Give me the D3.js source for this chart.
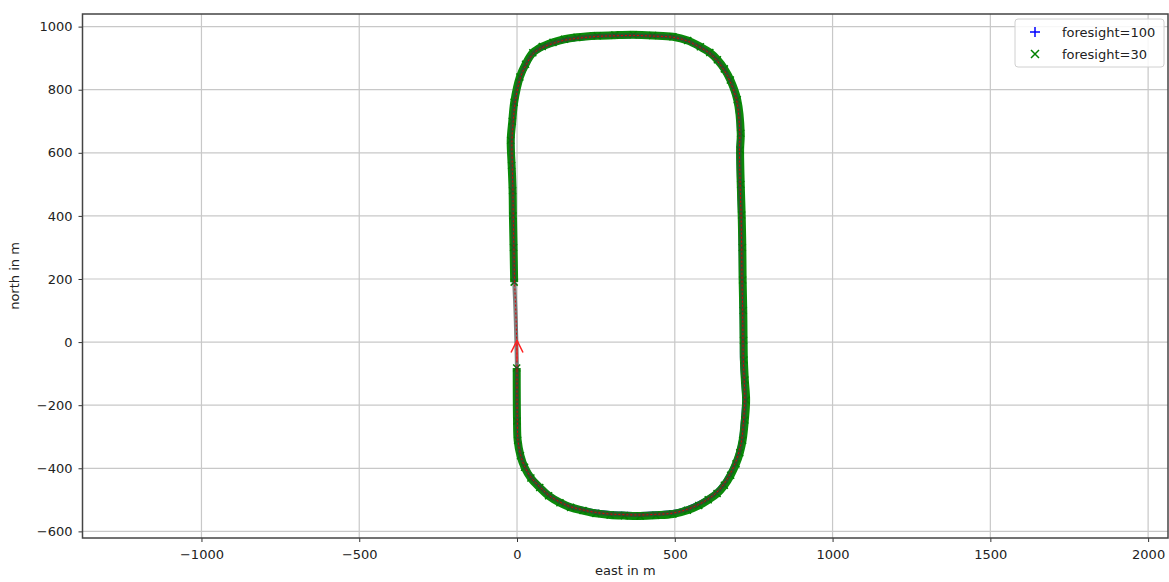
<!DOCTYPE html>
<html>
<head>
<meta charset="utf-8">
<script src="https://cdn.jsdelivr.net/npm/d3@7"></script>
<style>
  body { margin: 0; background: #fff; }
  text { font-family: "DejaVu Sans", sans-serif; fill: #222; }
</style>
</head>
<body>
<div id="chart"></div>
<script>
// tick values
let xTicks = [-1000, -500, 0, 500, 1000, 1500, 2000];
let yTicks = [-600, -400, -200, 0, 200, 400, 600, 800, 1000];

// driven path (grey), clockwise from the start
let pathEast  = [0, -2, -5, -9, -11, -13, -14, -16, -18, -14, -8, 10, 28, 51, 80, 114, 150, 190, 254, 310, 368, 430, 494, 540, 580, 610, 634, 656, 675, 697, 707, 705, 707, 710, 712, 713, 715, 716, 716, 720, 723, 719, 713, 704, 692, 675, 655, 632, 605, 575, 540, 494, 440, 390, 340, 295, 250, 209, 170, 136, 100, 73, 45, 25, 12, 3, 1, 0, 0];
let pathNorth = [-90, 0, 100, 200, 300, 400, 480, 560, 640, 700, 760, 840, 880, 916, 935, 948, 958, 964, 970, 972, 973, 971, 967, 955, 935, 917, 894, 865, 830, 767, 662, 609, 500, 403, 300, 197, 100, 6, -57, -120, -184, -247, -311, -350, -385, -420, -452, -478, -498, -515, -530, -542, -546, -548, -547, -545, -540, -532, -522, -507, -485, -460, -430, -396, -360, -311, -250, -180, -90];

// reference route (red dashed)
let routeEast  = [0, -1, -4, -8, -10, -12, -13, -15, -16, -12, -6, 11, 29, 52, 81, 115, 151, 191, 255, 311, 369, 431, 495, 541, 580, 610, 633, 655, 674, 696, 706, 705, 707, 710, 712, 713, 715, 716, 717, 720, 722, 718, 712, 703, 691, 674, 654, 631, 605, 575, 540, 494, 440, 390, 340, 295, 250, 209, 170, 136, 100, 73, 45, 25, 12, 3, 1, 0, 0];
let routeNorth = [-90, 0, 100, 200, 300, 400, 480, 560, 640, 700, 760, 839, 879, 915, 934, 947, 957, 963, 969, 971, 972, 970, 966, 954, 934, 916, 893, 864, 829, 766, 661, 609, 500, 403, 300, 197, 100, 6, -57, -120, -184, -247, -311, -350, -385, -420, -452, -478, -498, -515, -530, -542, -546, -548, -547, -545, -540, -532, -522, -507, -485, -460, -430, -396, -360, -311, -250, -180, -90];

// foresight=100 (blue +)
let f100East  = [-9, -11, -13, -14, -16, -18, -14, -8, 10, 28, 51, 80, 114, 150, 190, 254, 310, 368, 430, 494, 540, 580, 610, 634, 656, 675, 697, 707, 705, 707, 710, 712, 713, 715, 716, 716, 720, 723, 719, 713, 704, 692, 675, 655, 632, 605, 575, 540, 494, 440, 390, 340, 295, 250, 209, 170, 136, 100, 73, 45, 25, 12, 3, 1, 0];
let f100North = [190, 300, 400, 480, 560, 640, 700, 760, 840, 880, 916, 935, 948, 958, 964, 970, 972, 973, 971, 967, 955, 935, 917, 894, 865, 830, 767, 662, 609, 500, 403, 300, 197, 100, 6, -57, -120, -184, -247, -311, -350, -385, -420, -452, -478, -498, -515, -530, -542, -546, -548, -547, -545, -540, -532, -522, -507, -485, -460, -430, -396, -360, -311, -250, -82];

// foresight=30 (green x)
let f30East  = [-9, -11, -13, -14, -17, -20, -15, -9, 9, 27, 50, 80, 114, 150, 190, 254, 310, 368, 430, 494, 541, 581, 611, 635, 657, 676, 698, 709, 707, 709, 712, 714, 715, 717, 718, 719, 722, 726, 722, 715, 706, 694, 677, 657, 634, 606, 576, 540, 494, 440, 390, 340, 295, 250, 209, 170, 136, 100, 72, 44, 24, 11, 2, 0, -1];
let f30North = [190, 300, 400, 480, 560, 640, 700, 760, 840, 881, 917, 937, 950, 960, 966, 971, 973, 974, 972, 968, 956, 936, 918, 895, 866, 831, 768, 662, 609, 500, 403, 300, 197, 100, 6, -57, -120, -184, -247, -311, -351, -386, -422, -454, -480, -500, -518, -533, -545, -549, -551, -550, -548, -543, -534, -524, -509, -487, -461, -431, -397, -360, -311, -250, -82];

// start arrow (tail, head)
let arrowEast  = [0, 0];
let arrowNorth = [-60, 5];

// svg size and margins
let svgWidth = 1169;
let svgHeight = 582;
let margin = { top: 14, right: 1, bottom: 44, left: 82.5 };
let width = svgWidth - margin.left - margin.right;
let height = svgHeight - margin.top - margin.bottom;

let svg = d3.select("#chart")
  .append("svg")
  .attr("width", svgWidth)
  .attr("height", svgHeight);

let g = svg.append("g")
  .attr("transform", `translate(${margin.left}, ${margin.top})`);

// equal-aspect scales
let x = d3.scaleLinear().domain([-1377, 2063]).range([0, width]);
let y = d3.scaleLinear().domain([-621, 1040]).range([height, 0]);

let fmt = d => d < 0 ? "\u2212" + Math.abs(d) : String(d);

// grid
g.append("g")
  .selectAll("line")
  .data(xTicks)
  .enter().append("line")
  .attr("x1", d => x(d)).attr("x2", d => x(d))
  .attr("y1", 0).attr("y2", height)
  .attr("stroke", "#c8c8c8").attr("stroke-width", 1.2);

g.append("g")
  .selectAll("line")
  .data(yTicks)
  .enter().append("line")
  .attr("y1", d => y(d)).attr("y2", d => y(d))
  .attr("x1", 0).attr("x2", width)
  .attr("stroke", "#c8c8c8").attr("stroke-width", 1.2);

let zip = (a, b) => a.map((v, i) => [v, b[i]]);
let line = d3.line().x(d => x(d[0])).y(d => y(d[1])).curve(d3.curveCatmullRom);

// foresight=100 markers
let f100 = zip(f100East, f100North);
g.append("path")
  .datum(f100)
  .attr("d", line)
  .attr("fill", "none")
  .attr("stroke", "#1f1fd0")
  .attr("stroke-width", 6)
  .attr("stroke-linejoin", "round");

// foresight=30: dense markers form a band
let f30 = zip(f30East, f30North);
g.append("path")
  .datum(f30)
  .attr("d", line)
  .attr("fill", "none")
  .attr("stroke", "#0a8a0a")
  .attr("stroke-width", 8)
  .attr("stroke-linejoin", "round");

g.append("g")
  .selectAll("path")
  .data(f30)
  .enter().append("path")
  .attr("transform", d => `translate(${x(d[0])}, ${y(d[1])})`)
  .attr("d", "M-3.5,-3.5L3.5,3.5M-3.5,3.5L3.5,-3.5")
  .attr("stroke", "#008000")
  .attr("stroke-width", 1.5);

// driven path
g.append("path")
  .datum(zip(pathEast, pathNorth))
  .attr("d", line)
  .attr("fill", "none")
  .attr("stroke", "rgba(60,60,60,0.65)")
  .attr("stroke-width", 4)
  .attr("stroke-linejoin", "round");

// reference route
g.append("path")
  .datum(zip(routeEast, routeNorth))
  .attr("d", line)
  .attr("fill", "none")
  .attr("stroke", "#e00000")
  .attr("stroke-width", 1)
  .attr("stroke-dasharray", "2,2");

// start arrow
let ax = x(arrowEast[1]), ay = y(arrowNorth[1]);
g.append("line")
  .attr("x1", x(arrowEast[0])).attr("y1", y(arrowNorth[0]))
  .attr("x2", ax).attr("y2", ay)
  .attr("stroke", "#ff2020").attr("stroke-width", 1.2);
g.append("path")
  .attr("d", `M${ax - 6},${ay + 12}L${ax},${ay}L${ax + 6},${ay + 12}`)
  .attr("fill", "none")
  .attr("stroke", "#ff2020")
  .attr("stroke-width", 1.5);

// axes
let bottomAxis = d3.axisBottom(x).tickValues(xTicks).tickFormat(fmt).tickSize(4).tickPadding(8);
let leftAxis = d3.axisLeft(y).tickValues(yTicks).tickFormat(fmt).tickSize(4).tickPadding(6);

let xa = g.append("g").attr("transform", `translate(0, ${height})`).call(bottomAxis);
let ya = g.append("g").call(leftAxis);
[xa, ya].forEach(a => {
  a.select(".domain").remove();
  a.selectAll("line").attr("stroke", "#333");
  a.selectAll("text").attr("font-size", 13).attr("fill", "#222");
});

// frame
g.append("rect")
  .attr("width", width).attr("height", height)
  .attr("fill", "none")
  .attr("stroke", "#444")
  .attr("stroke-width", 1.5);

// axis labels
g.append("text")
  .attr("x", width / 2).attr("y", height + 37)
  .attr("text-anchor", "middle")
  .attr("font-size", 13)
  .text("east in m");

g.append("text")
  .attr("transform", "rotate(-90)")
  .attr("x", -height / 2).attr("y", -64)
  .attr("text-anchor", "middle")
  .attr("font-size", 13)
  .text("north in m");

// legend
let lg = g.append("g").attr("transform", `translate(${width - 153}, 5)`);
lg.append("rect")
  .attr("width", 149).attr("height", 48)
  .attr("rx", 3)
  .attr("fill", "rgba(255,255,255,0.85)")
  .attr("stroke", "#d0d0d0");
lg.append("path")
  .attr("d", "M20,8L20,18M15,13L25,13")
  .attr("stroke", "#0000ff").attr("stroke-width", 1.5);
lg.append("path")
  .attr("d", "M16,31L24,39M16,39L24,31")
  .attr("stroke", "#008000").attr("stroke-width", 1.5);
lg.append("text").attr("x", 47).attr("y", 18).attr("font-size", 13).text("foresight=100");
lg.append("text").attr("x", 47).attr("y", 40).attr("font-size", 13).text("foresight=30");
</script>
</body>
</html>
